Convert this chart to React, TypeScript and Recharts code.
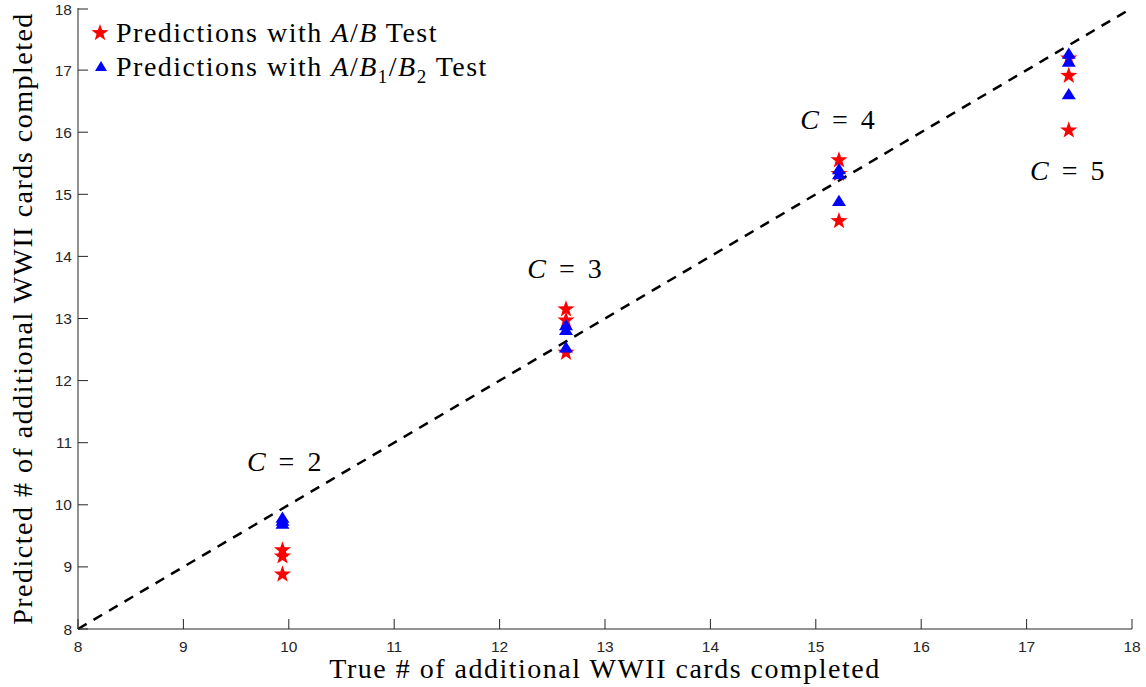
import React from 'react'
import {
    ScatterChart,
    Scatter,
    XAxis,
    YAxis,
    ReferenceLine,
    Legend,
    Label,
} from 'recharts'

const axisTicks = [8, 9, 10, 11, 12, 13, 14, 15, 16, 17, 18]

// true value for each C, and the three predictions of each test
const trueValues = [9.94, 12.63, 15.22, 17.4]
const abPredictions = [
    [9.27, 9.17, 8.88],
    [13.15, 12.97, 12.45],
    [15.55, 15.33, 14.57],
    [17.19, 16.91, 16.03],
]
const ab1b2Predictions = [
    [9.78, 9.73, 9.68],
    [12.88, 12.8, 12.52],
    [15.39, 15.31, 14.88],
    [17.25, 17.12, 16.6],
]

const annotationC = [2, 3, 4, 5]
const annotationX = [9.97, 12.63, 15.22, 17.4]
const annotationY = [10.71, 13.81, 16.21, 15.39]

const diagonal = [
    { x: 8, y: 8 },
    { x: 18, y: 18 },
]

const abPoints = trueValues.flatMap((x, i) =>
    abPredictions[i].map(y => ({ x, y }))
)
const ab1b2Points = trueValues.flatMap((x, i) =>
    ab1b2Predictions[i].map(y => ({ x, y }))
)
const annotations = annotationC.map((c, i) => ({
    x: annotationX[i],
    y: annotationY[i],
    c,
}))

const SERIF = '"Liberation Serif", "Times New Roman", serif'
const SANS = '"Liberation Sans", Arial, Helvetica, sans-serif'
const AXIS_COLOR = '#262626'
const TICK_LEN = 10
const TITLE_SIZE = 28
const TITLE_SPACING = 1.5

function starPath(cx: number, cy: number, r: number) {
    const pts: string[] = []
    for (let k = 0; k < 10; k++) {
        const rr = k % 2 === 0 ? r : r * 0.4
        const a = -Math.PI / 2 + (k * Math.PI) / 5
        pts.push(`${cx + rr * Math.cos(a)},${cy + rr * Math.sin(a)}`)
    }
    return pts.join(' ')
}

function StarShape(props: any) {
    const { cx, cy } = props
    return <polygon points={starPath(cx, cy, 9)} fill="#ff0000" />
}

function TriangleShape(props: any) {
    const { cx, cy } = props
    const r = 7
    return (
        <polygon
            points={`${cx},${cy - r} ${cx - r},${cy + r * 0.6} ${cx + r},${cy + r * 0.6}`}
            fill="#0000ff"
        />
    )
}

function AnnotationShape(props: any) {
    const { cx, cy, payload } = props
    return (
        <text
            x={cx}
            y={cy}
            textAnchor="middle"
            dominantBaseline="central"
            fontFamily={SERIF}
            fontSize={TITLE_SIZE}
            letterSpacing={3}
            fill="#000"
        >
            <tspan fontStyle="italic">C</tspan>
            <tspan> = {payload.c}</tspan>
        </text>
    )
}

function BottomTick(props: any) {
    const { x, y, payload } = props
    return (
        <g>
            <line x1={x} y1={y} x2={x} y2={y - TICK_LEN} stroke={AXIS_COLOR} />
            <text
                x={x}
                y={y + 17}
                textAnchor="middle"
                dominantBaseline="central"
                fontFamily={SANS}
                fontSize={15.5}
                fill={AXIS_COLOR}
            >
                {payload.value}
            </text>
        </g>
    )
}

function LeftTick(props: any) {
    const { x, y, payload } = props
    return (
        <g>
            <line x1={x} y1={y} x2={x + TICK_LEN} y2={y} stroke={AXIS_COLOR} />
            <text
                x={x - 6}
                y={y}
                textAnchor="end"
                dominantBaseline="central"
                fontFamily={SANS}
                fontSize={15.5}
                fill={AXIS_COLOR}
            >
                {payload.value}
            </text>
        </g>
    )
}

function TopTick(props: any) {
    const { x, y } = props
    return <line x1={x} y1={y} x2={x} y2={y + TICK_LEN} stroke={AXIS_COLOR} />
}

function RightTick(props: any) {
    const { x, y } = props
    return <line x1={x} y1={y} x2={x - TICK_LEN} y2={y} stroke={AXIS_COLOR} />
}

function LegendContent() {
    const row: React.CSSProperties = {
        display: 'flex',
        alignItems: 'center',
        height: 34,
        fontFamily: SERIF,
        fontSize: TITLE_SIZE,
        letterSpacing: TITLE_SPACING,
        color: '#000',
        whiteSpace: 'nowrap',
    }
    return (
        <div>
            <div style={row}>
                <svg width={24} height={24} style={{ marginRight: 2 }}>
                    <polygon points={starPath(10, 12, 9)} fill="#ff0000" />
                </svg>
                <span>
                    Predictions with <i>A</i>/<i>B</i> Test
                </span>
            </div>
            <div style={row}>
                <svg width={24} height={24} style={{ marginRight: 2 }}>
                    <polygon points="11,6 5,16 17,16" fill="#0000ff" />
                </svg>
                <span>
                    Predictions with <i>A</i>/<i>B</i>
                    <sub style={{ fontSize: 19, lineHeight: 0 }}>1</sub>/<i>B</i>
                    <sub style={{ fontSize: 19, lineHeight: 0 }}>2</sub> Test
                </span>
            </div>
        </div>
    )
}

function YTitle(props: any) {
    const { viewBox } = props
    const cx = 22
    const cy = viewBox.y + viewBox.height / 2
    return (
        <text
            x={cx}
            y={cy}
            transform={`rotate(-90 ${cx} ${cy})`}
            textAnchor="middle"
            dominantBaseline="central"
            fontFamily={SERIF}
            fontSize={TITLE_SIZE}
            letterSpacing={TITLE_SPACING}
            fill="#000"
        >
            Predicted # of additional WWII cards completed
        </text>
    )
}

function XTitle(props: any) {
    const { viewBox } = props
    const cx = viewBox.x + viewBox.width / 2
    return (
        <text
            x={cx}
            y={668}
            textAnchor="middle"
            dominantBaseline="central"
            fontFamily={SERIF}
            fontSize={TITLE_SIZE}
            letterSpacing={TITLE_SPACING}
            fill="#000"
        >
            True # of additional WWII cards completed
        </text>
    )
}

export default function App() {
    return (
        <div
            style={{
                position: 'absolute',
                left: 0,
                top: 0,
                width: 1146,
                height: 687,
                background: '#fff',
            }}
        >
            <ScatterChart
                width={1146}
                height={687}
                margin={{ top: 8, right: 14, left: 38, bottom: 0 }}
            >
                <XAxis
                    type="number"
                    dataKey="x"
                    xAxisId="bottom"
                    domain={[8, 18]}
                    ticks={axisTicks}
                    allowDataOverflow
                    height={58}
                    tickLine={false}
                    tickSize={0}
                    tickMargin={0}
                    tick={<BottomTick />}
                    axisLine={{ stroke: AXIS_COLOR }}
                >
                    <Label content={<XTitle />} />
                </XAxis>
                <XAxis
                    type="number"
                    dataKey="x"
                    xAxisId="top"
                    orientation="top"
                    domain={[8, 18]}
                    ticks={axisTicks}
                    allowDataOverflow
                    height={0}
                    tickLine={false}
                    tickSize={0}
                    tickMargin={0}
                    tick={<TopTick />}
                    axisLine={{ stroke: AXIS_COLOR }}
                />
                <YAxis
                    type="number"
                    dataKey="y"
                    yAxisId="left"
                    domain={[8, 18]}
                    ticks={axisTicks}
                    allowDataOverflow
                    width={40}
                    tickLine={false}
                    tickSize={0}
                    tickMargin={0}
                    tick={<LeftTick />}
                    axisLine={{ stroke: AXIS_COLOR }}
                >
                    <Label content={<YTitle />} />
                </YAxis>
                <YAxis
                    type="number"
                    dataKey="y"
                    yAxisId="right"
                    orientation="right"
                    domain={[8, 18]}
                    ticks={axisTicks}
                    allowDataOverflow
                    width={0}
                    tickLine={false}
                    tickSize={0}
                    tickMargin={0}
                    tick={<RightTick />}
                    axisLine={{ stroke: AXIS_COLOR }}
                />
                <ReferenceLine
                    xAxisId="bottom"
                    yAxisId="left"
                    segment={diagonal}
                    stroke="#000"
                    strokeWidth={2.5}
                    strokeDasharray="10 8"
                    ifOverflow="visible"
                />
                <Scatter
                    name="ab"
                    data={abPoints}
                    xAxisId="bottom"
                    yAxisId="left"
                    shape={<StarShape />}
                    isAnimationActive={false}
                />
                <Scatter
                    name="ab1b2"
                    data={ab1b2Points}
                    xAxisId="bottom"
                    yAxisId="left"
                    shape={<TriangleShape />}
                    isAnimationActive={false}
                />
                <Scatter
                    name="annotations"
                    data={annotations}
                    xAxisId="bottom"
                    yAxisId="left"
                    shape={<AnnotationShape />}
                    isAnimationActive={false}
                    legendType="none"
                />
                <Legend
                    content={<LegendContent />}
                    layout="horizontal"
                    verticalAlign="middle"
                    align="center"
                    wrapperStyle={{ left: 90, top: 16, width: 'auto' }}
                />
            </ScatterChart>
        </div>
    )
}
